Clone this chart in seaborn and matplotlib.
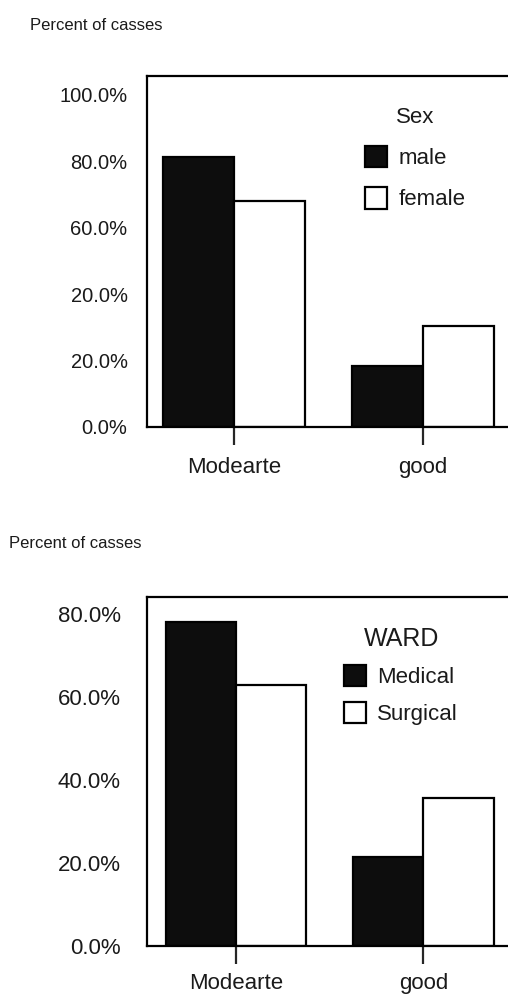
import pandas as pd
import matplotlib
matplotlib.use("Agg")
import matplotlib.pyplot as plt
import seaborn as sns

# values (percent of cases)
categories = ["Modearte", "good"]
sex_levels = ["male", "female"]
male_pct = [81.4, 18.5]
female_pct = [68.2, 30.3]

ward_levels = ["Medical", "Surgical"]
medical_pct = [78.0, 21.5]
surgical_pct = [62.7, 35.7]

top_ticks = [0, 20, 40, 60, 80, 100]
top_ticklabels = ["0.0%", "20.0%", "20.0%", "60.0%", "80.0%", "100.0%"]  # as printed in the original
bottom_ticks = [0, 20, 40, 60, 80]
bottom_ticklabels = ["0.0%", "20.0%", "40.0%", "60.0%", "80.0%"]

df_sex = pd.DataFrame({
    "outcome": categories * 2,
    "Sex": [sex_levels[0]] * 2 + [sex_levels[1]] * 2,
    "pct": male_pct + female_pct,
})
df_ward = pd.DataFrame({
    "outcome": categories * 2,
    "WARD": [ward_levels[0]] * 2 + [ward_levels[1]] * 2,
    "pct": medical_pct + surgical_pct,
})

sns.set_theme(style="white")
plt.rcParams["font.family"] = ["Liberation Sans", "DejaVu Sans"]
plt.rcParams["axes.linewidth"] = 1.6
plt.rcParams["axes.edgecolor"] = "black"

fig = plt.figure(figsize=(5.08, 9.94), dpi=100)
W, H = 508, 994

def px_axes(left, top, right, bottom):
    return fig.add_axes([left / W, 1 - bottom / H, (right - left) / W, (bottom - top) / H])

ax1 = px_axes(147, 76, 510, 427)
ax2 = px_axes(147, 597, 510, 946)

colors = ["#0d0d0d", "white"]

def draw(ax, data, hue, ylim, xlim, ticks, ticklabels, ytick_size, ypad, xpad,
         title_size, anchor, labelspacing):
    sns.barplot(data=data, x="outcome", y="pct", hue=hue, palette=colors,
                edgecolor="black", linewidth=1.6, width=0.75, ax=ax, errorbar=None)
    ax.set_ylim(*ylim)
    ax.set_xlim(*xlim)
    ax.set_yticks(ticks)
    ax.set_yticklabels(ticklabels)
    ax.set_xlabel("")
    ax.set_ylabel("")
    ax.tick_params(axis="y", length=0, pad=ypad, labelsize=ytick_size, labelcolor="#1a1a1a")
    ax.tick_params(axis="x", length=13, width=1.6, direction="out", pad=xpad,
                   labelsize=16, labelcolor="#1a1a1a", bottom=True)
    for s in ax.spines.values():
        s.set_visible(True)
        s.set_color("black")
    leg = ax.legend(title=hue, frameon=False, loc="upper left", bbox_to_anchor=anchor,
                    borderaxespad=0, borderpad=0, fontsize=16, title_fontsize=title_size,
                    handlelength=1.0, handleheight=1.1, handletextpad=0.5,
                    labelspacing=labelspacing)
    for t in leg.get_texts():
        t.set_color("#1a1a1a")
    leg.get_title().set_color("#1a1a1a")

draw(ax1, df_sex, "Sex", (0, 105.7), (-0.46, 1.46), top_ticks, top_ticklabels,
     14.5, 14, 8.5, 16, (0.6, 0.913), 0.82)
draw(ax2, df_ward, "WARD", (0, 84), (-0.475, 1.463), bottom_ticks, bottom_ticklabels,
     16, 19, 6.5, 18, (0.543, 0.915), 0.63)

fig.text(30 / W, 1 - 25 / H, "Percent of casses", fontsize=12, va="center", ha="left", color="#1a1a1a")
fig.text(9 / W, 1 - 544 / H, "Percent of casses", fontsize=12, va="center", ha="left", color="#1a1a1a")

fig.savefig("out.png", dpi=100, facecolor="white")
